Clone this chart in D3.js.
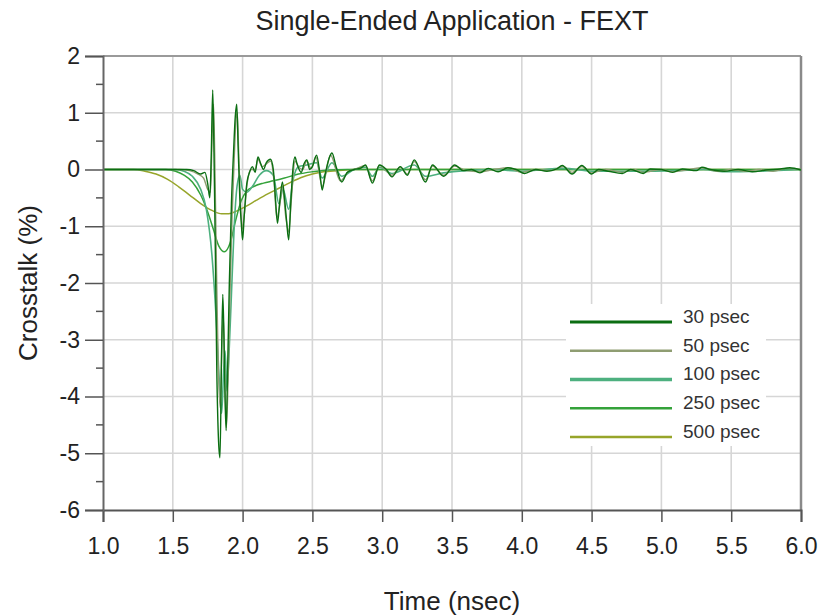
<!DOCTYPE html>
<html>
<head>
<meta charset="utf-8">
<script src="https://cdn.jsdelivr.net/npm/d3@7/dist/d3.min.js"></script>
<style>
  html, body { margin: 0; padding: 0; background: #fff; }
  svg { display: block; font-family: "Liberation Sans", Arial, sans-serif; }
</style>
</head>
<body>
<svg id="chart" width="823" height="616"></svg>
<script>
// Far-end crosstalk waveforms for several rise times (time in ns, crosstalk in %)
const t30 = [1.0,1.5,1.6,1.65,1.70,1.73,1.75,1.765,1.775,1.786,1.795,1.805,1.815,1.828,1.838,1.848,1.858,1.866,1.874,1.882,1.892,1.905,1.92,1.935,1.948,1.958,1.968,1.98,1.992,2.0,2.012,2.03,2.05,2.07,2.09,2.11,2.13,2.15,2.17,2.20,2.22,2.235,2.25,2.265,2.285,2.30,2.315,2.33,2.345,2.36,2.375,2.39,2.42,2.44,2.46,2.48,2.50,2.53,2.555,2.57,2.59,2.62,2.64,2.67,2.71,2.75,2.80,2.85,2.88,2.93,2.98,3.03,3.07,3.13,3.18,3.23,3.31,3.36,3.44,3.52,3.58,3.64,3.70,3.76,3.83,3.90,3.96,4.02,4.10,4.18,4.25,4.29,4.36,4.43,4.50,4.55,4.62,4.72,4.78,4.87,4.92,5.00,5.08,5.15,5.25,5.29,5.35,5.45,5.55,5.65,5.75,5.85,5.92,6.0];
const v30 = [0,0,0,-0.02,-0.08,-0.05,-0.25,-0.5,0.2,1.40,0.3,-1.5,-3.5,-4.8,-5.08,-3.5,-2.2,-2.9,-4.0,-4.6,-3.6,-2.0,-0.6,0.3,0.95,1.15,0.4,-0.5,-1.0,-1.24,-0.8,-0.25,-0.05,0.05,-0.05,0.22,0.1,0.0,0.12,0.18,0.0,-0.5,-0.95,-0.6,-0.22,-0.5,-0.9,-1.24,-0.6,0.0,0.22,0.1,-0.05,0.1,0.17,0.0,0.05,0.25,-0.1,-0.36,-0.1,0.2,0.29,0.05,-0.22,-0.05,0.0,0.03,0.08,-0.24,0.08,0.0,-0.13,0.05,-0.1,0.17,-0.22,0.08,-0.12,0.08,-0.02,0.0,-0.06,0.02,-0.04,0.03,0.0,-0.07,0.0,-0.03,0.01,0.07,-0.08,0.07,-0.08,0.0,-0.03,-0.07,0.0,-0.07,0.01,0.0,-0.05,0.01,-0.02,0.04,0.0,-0.03,0.0,-0.04,-0.01,0.01,0.03,-0.01];

const t50 = [1.0,1.55,1.62,1.68,1.72,1.75,1.77,1.782,1.792,1.80,1.812,1.825,1.84,1.852,1.862,1.872,1.884,1.895,1.91,1.925,1.94,1.952,1.962,1.972,1.985,1.998,2.01,2.03,2.06,2.09,2.11,2.14,2.17,2.20,2.225,2.245,2.265,2.285,2.31,2.33,2.35,2.375,2.40,2.43,2.46,2.49,2.525,2.57,2.63,2.70,2.76,2.82,2.88,2.93,2.98,3.07,3.13,3.18,3.23,3.31,3.36,3.44,3.52,3.60,3.70,3.80,3.90,4.00,4.10,4.20,4.30,4.36,4.43,4.50,4.60,4.72,4.80,4.87,5.00,5.08,5.20,5.29,5.40,5.50,5.60,5.70,5.80,5.90,6.0];
const v50 = [0,0,-0.02,-0.08,-0.15,-0.35,-0.4,0.6,1.15,0.3,-1.6,-3.4,-4.2,-3.0,-2.6,-3.6,-4.55,-3.8,-2.2,-0.8,0.2,0.85,1.0,0.3,-0.6,-1.05,-0.85,-0.3,0.0,0.0,0.18,0.05,0.1,0.15,-0.2,-0.85,-0.65,-0.3,-0.85,-1.1,-0.5,0.15,0.05,0.0,0.15,0.02,0.22,-0.3,0.25,-0.2,-0.03,0.02,0.07,-0.2,0.07,-0.1,0.04,-0.08,0.14,-0.18,0.06,-0.1,0.06,-0.02,-0.04,0.0,0.03,-0.05,0.0,-0.02,0.05,-0.05,0.05,-0.06,0.0,-0.05,0.0,-0.05,0.0,-0.04,0.0,0.03,-0.03,0.0,-0.03,0.0,-0.03,0.02,0.0];

const t100 = [1.0,1.52,1.58,1.64,1.70,1.74,1.78,1.81,1.835,1.85,1.865,1.875,1.888,1.90,1.92,1.94,1.96,1.98,2.0,2.03,2.07,2.12,2.17,2.22,2.26,2.29,2.33,2.36,2.40,2.46,2.53,2.57,2.64,2.71,2.80,2.88,2.93,2.98,3.07,3.23,3.31,3.44,3.60,3.80,4.00,4.30,4.50,4.80,5.10,5.30,5.45,5.70,6.0];
const v100 = [0,0,-0.03,-0.12,-0.35,-0.7,-1.5,-2.6,-3.8,-4.3,-3.5,-3.2,-3.9,-3.4,-2.2,-1.0,-0.3,-0.1,-0.35,-0.4,-0.3,-0.1,-0.02,-0.1,-0.6,-0.35,-0.7,-0.2,0.05,0.08,0.12,-0.15,0.12,-0.12,0.0,0.04,-0.12,0.04,-0.07,0.08,-0.12,-0.06,-0.02,0.0,-0.03,0.02,-0.03,-0.03,-0.02,0.0,-0.04,-0.03,0.0];

const t250 = [1.0,1.45,1.52,1.58,1.64,1.70,1.75,1.79,1.83,1.87,1.91,1.95,1.99,2.03,2.08,2.15,2.22,2.30,2.40,2.50,2.62,2.75,6.0];
const v250 = [0,0,-0.03,-0.1,-0.22,-0.45,-0.75,-1.05,-1.35,-1.45,-1.3,-0.9,-0.55,-0.38,-0.3,-0.24,-0.2,-0.15,-0.08,-0.04,-0.01,0,0];

const t500 = [1.0,1.22,1.30,1.38,1.46,1.54,1.62,1.70,1.78,1.85,1.90,1.96,2.03,2.10,2.18,2.26,2.34,2.42,2.50,2.58,2.68,2.80,6.0];
const v500 = [0,0,-0.03,-0.08,-0.17,-0.3,-0.45,-0.6,-0.72,-0.78,-0.78,-0.73,-0.64,-0.54,-0.43,-0.33,-0.23,-0.14,-0.08,-0.04,-0.02,0,0];

const seriesNames = ["30 psec", "50 psec", "100 psec", "250 psec", "500 psec"];
const seriesTimes = [t30, t50, t100, t250, t500];
const seriesValues = [v30, v50, v100, v250, v500];
const seriesColors = ["#0b6e12", "#8f9d72", "#4db07f", "#34a23a", "#97a52a"];

const xTicks = [1.0,1.5,2.0,2.5,3.0,3.5,4.0,4.5,5.0,5.5,6.0];
const yTicks = [2,1,0,-1,-2,-3,-4,-5,-6];
const yMinorTicks = [1.5,0.5,-0.5,-1.5,-2.5,-3.5,-4.5,-5.5];

const titleText = "Single-Ended Application - FEXT";
const xTitle = "Time (nsec)";
const yTitle = "Crosstalk (%)";

// ---- layout ----
const svg = d3.select("#chart");
const plotL = 103, plotR = 801, plotT = 56, plotB = 510;
const x = d3.scaleLinear().domain([1, 6]).range([plotL, plotR]);
const y = d3.scaleLinear().domain([-6, 2]).range([plotB, plotT]);

// grid
const grid = svg.append("g");
grid.selectAll("line.vx").data(xTicks.slice(1, -1)).join("line")
  .attr("x1", d => x(d)).attr("x2", d => x(d))
  .attr("y1", plotT).attr("y2", plotB)
  .attr("stroke", "#d6d6d6").attr("stroke-width", 1.6);
grid.selectAll("line.hy").data(yTicks.slice(1, -1)).join("line")
  .attr("x1", plotL).attr("x2", plotR)
  .attr("y1", d => y(d)).attr("y2", d => y(d))
  .attr("stroke", "#d6d6d6").attr("stroke-width", 1.6);

// frame: top and right
svg.append("line").attr("x1", plotL).attr("x2", plotR).attr("y1", plotT).attr("y2", plotT)
  .attr("stroke", "#9a9a9a").attr("stroke-width", 2);
svg.append("line").attr("x1", plotR).attr("x2", plotR).attr("y1", plotT).attr("y2", plotB)
  .attr("stroke", "#8a8a8a").attr("stroke-width", 2.5);

// clip for the traces
svg.append("clipPath").attr("id", "plotClip").append("rect")
  .attr("x", plotL).attr("y", plotT).attr("width", plotR - plotL).attr("height", plotB - plotT);

const line = d3.line()
  .x(d => x(d[0])).y(d => y(d[1]))
  .curve(d3.curveMonotoneX);

const traces = svg.append("g").attr("clip-path", "url(#plotClip)");
const drawOrder = [4, 3, 2, 1, 0];
const traceWidths = [1.4, 1.4, 1.6, 1.5, 1.5];
drawOrder.forEach(i => {
  const pts = seriesTimes[i].map((t, k) => [t, seriesValues[i][k]]);
  traces.append("path")
    .datum(pts)
    .attr("d", line)
    .attr("fill", "none")
    .attr("stroke", seriesColors[i])
    .attr("stroke-width", traceWidths[i])
    .attr("stroke-linejoin", "round");
});

// axes
const xAxis = d3.axisBottom(x).tickValues(xTicks).tickFormat(d3.format(".1f"))
  .tickSize(12).tickPadding(16);
const gx = svg.append("g").attr("transform", `translate(0,${plotB})`).call(xAxis);
gx.select(".domain").attr("stroke", "#555").attr("stroke-width", 2);
gx.selectAll(".tick line").attr("stroke", "#555").attr("stroke-width", 1.5);
gx.selectAll(".tick text").attr("fill", "#222").attr("font-size", 23)
  .attr("font-family", "Liberation Sans, Arial, sans-serif");

const yAxis = d3.axisLeft(y).tickValues(yTicks).tickFormat(d => String(d))
  .tickSize(18).tickPadding(5);
const gy = svg.append("g").attr("transform", `translate(${plotL},0)`).call(yAxis);
gy.select(".domain").attr("stroke", "#666").attr("stroke-width", 2);
gy.selectAll(".tick line").attr("stroke", "#555").attr("stroke-width", 1.5);
gy.selectAll(".tick text").attr("fill", "#222").attr("font-size", 23)
  .attr("font-family", "Liberation Sans, Arial, sans-serif");

svg.append("g").selectAll("line").data(yMinorTicks).join("line")
  .attr("x1", plotL - 7).attr("x2", plotL)
  .attr("y1", d => y(d)).attr("y2", d => y(d))
  .attr("stroke", "#555").attr("stroke-width", 1.5);

// titles
svg.append("text").attr("x", (plotL + plotR) / 2).attr("y", 30)
  .attr("text-anchor", "middle").attr("font-size", 27).attr("fill", "#222")
  .text(titleText);
svg.append("text").attr("x", (plotL + plotR) / 2).attr("y", 610)
  .attr("text-anchor", "middle").attr("font-size", 26).attr("fill", "#222")
  .text(xTitle);
svg.append("text").attr("transform", `translate(37,${(plotT + plotB) / 2}) rotate(-90)`)
  .attr("text-anchor", "middle").attr("font-size", 26).attr("fill", "#222")
  .text(yTitle);

// legend
const legend = svg.append("g");
legend.append("rect").attr("x", 566).attr("y", 304).attr("width", 200).attr("height", 142)
  .attr("fill", "#fff");
const legendWidths = [3, 2.5, 3.5, 2.5, 2.5];
const legendY = d3.scalePoint().domain(seriesNames).range([322, 437]);
seriesNames.forEach((name, i) => {
  legend.append("line")
    .attr("x1", 570).attr("x2", 672)
    .attr("y1", legendY(name)).attr("y2", legendY(name))
    .attr("stroke", seriesColors[i]).attr("stroke-width", legendWidths[i]);
  legend.append("text")
    .attr("x", 683).attr("y", legendY(name)).attr("dy", "0.05em")
    .attr("font-size", 19).attr("fill", "#333")
    .text(name);
});
</script>
</body>
</html>
